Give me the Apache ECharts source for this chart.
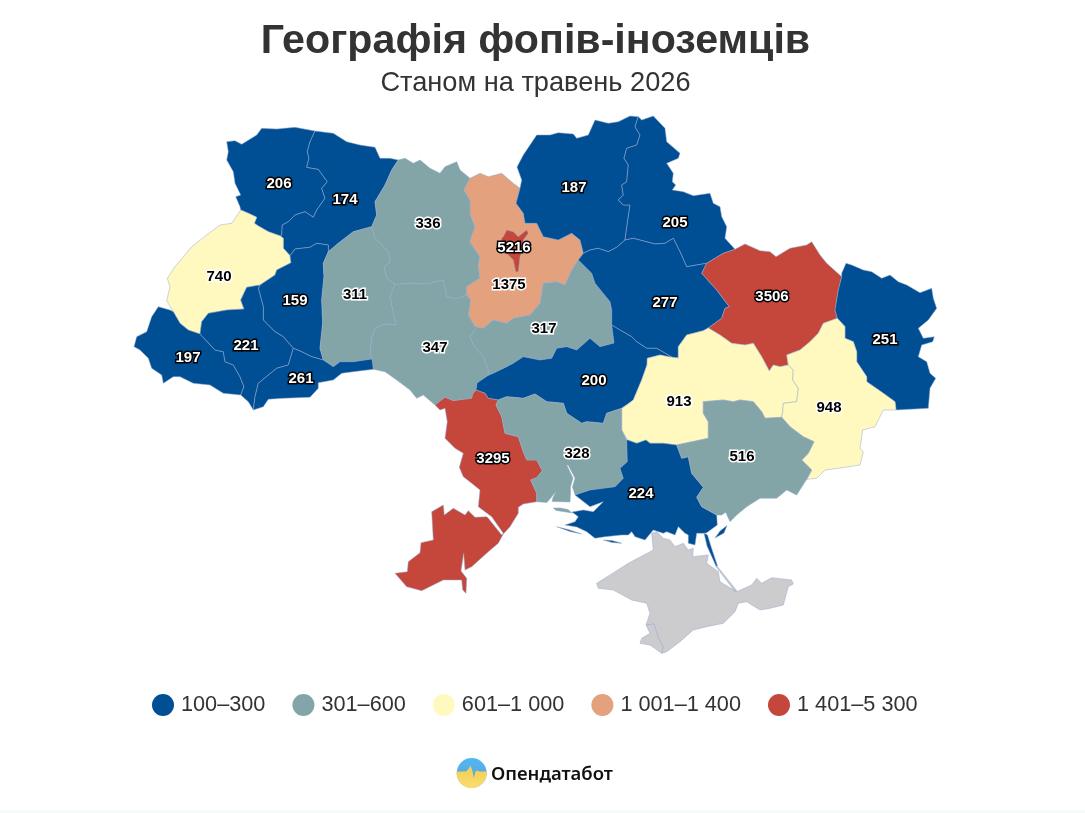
<!DOCTYPE html>
<html>
<head>
<meta charset="utf-8">
<title>Географія фопів-іноземців</title>
<script src="https://cdn.jsdelivr.net/npm/echarts@6/dist/echarts.min.js"></script>
<style>
	html, body { margin: 0; padding: 0; background: #fff; }
	#chart { width: 1085px; height: 813px; }
</style>
</head>
<body>
<div id="chart"></div>
<script>
// values per region, same order in both lists
var regions = ["Волинська", "Рівненська", "Житомирська", "Київська", "Київ", "Чернігівська", "Сумська",
	"Львівська", "Тернопільська", "Хмельницька", "Вінницька", "Черкаська", "Полтавська", "Харківська", "Луганська",
	"Закарпатська", "Івано-Франківська", "Чернівецька", "Кіровоградська", "Дніпропетровська", "Донецька",
	"Одеська", "Миколаївська", "Херсонська", "Запорізька"];
var values = [206, 174, 336, 1375, 5216, 187, 205,
	740, 159, 311, 347, 317, 277, 3506, 251,
	197, 221, 261, 200, 913, 948,
	3295, 328, 224, 516];

// legend ranges
var rangeLabels = ["100–300", "301–600", "601–1 000", "1 001–1 400", "1 401–5 300"];
var rangeMin = [100, 301, 601, 1001, 1401];
var rangeMax = [300, 600, 1000, 1400, 5300];
var rangeColors = ["#004f94", "#83a5a7", "#fff9bf", "#e3a17d", "#c5473b"];
var rangeWhiteText = [true, false, false, false, true];

// region outlines, traced in picture pixels, "x,y x,y ..."
var outlines = {
	"Волинська": ["226.7,141.7 235,140.7 241.7,144.3 256.7,135 261.7,128.3 276.7,129 295,127.3 315,131 310,141.7 307.3,151.7 309,158.3 306.7,167.3 318.3,169.3 327.3,181.7 321.7,188.3 325,198.3 316.7,210 313.3,217.3 305,211.7 295,215 288.3,221.7 282.3,225 281.7,235 280.3,236 268.3,231.7 258.3,226 254.3,223.3 256.7,217.3 248.3,213.3 240.7,210 240,206.7 235.7,196.7 240.7,195 235,183.3 233.3,171.7 226.7,160 228.3,151.7"],
	"Рівненська": ["315,131 333.3,133.3 346.7,141.7 360,145 375,147.3 380,158.3 390,158.3 398.3,160 391.7,170 385,185 375,201.7 376.7,215 371.7,226.7 353.3,231.7 338.3,243.3 328.3,251.7 328.3,245 316.7,243.3 310,247.3 295,249 290,255.7 283.3,248.3 283.3,238.3 280.3,236 281.7,235 282.3,225 288.3,221.7 295,215 305,211.7 313.3,217.3 316.7,210 325,198.3 321.7,188.3 327.3,181.7 318.3,169.3 306.7,167.3 309,158.3 307.3,151.7 310,141.7"],
	"Житомирська": ["398.3,160 405,158.3 413.3,163.3 420,160 430,168.3 440,173.3 445,166.7 456.7,161.7 460,170 470,178.3 464,190 470,200 470,213.3 475,226.7 470,241.7 480,256.7 478.3,265 480,278.3 466.7,286.7 466.7,295 456.7,299 446.7,296.7 443.3,280 435,281.7 428.3,284 413.3,283.3 395,284.3 386.7,278.3 384,266.7 390,261.7 388.3,251.7 375,238.3 371.7,226.7 376.7,215 375,201.7 385,185 391.7,170"],
	"Київська": ["470,178.3 480,173.3 488.3,176.7 501.7,173.3 513.3,183.3 520,188.3 516,203.3 523.3,213.3 525,223.3 536.7,223.3 543.3,236.7 558.3,240 571.7,233.3 580,240 583.3,253.3 578.3,260 571.7,270 565,285 556.7,281.7 543.3,283.3 540,303.3 530,315 513.3,318.3 506.7,323.3 493.3,320 483.3,328.3 475,326.7 468.3,315 470.7,300 466.7,295 466.7,286.7 480,278.3 478.3,265 480,256.7 470,241.7 475,226.7 470,213.3 470,200 464,190"],
	"Київ": ["503.3,236.7 506.7,230 513.3,231.7 518.3,236.7 526.7,230 528.3,233.3 523.3,240 523.3,248.3 520,256.7 518.3,271.7 515.7,271.7 513.3,260 506.7,253.3 500,246.7 501.7,238.3"],
	"Чернігівська": ["520,188.3 521.7,180 517,167 523.3,155 536.7,135 550,135 558.3,132.7 573.3,134 576.7,138.3 588.3,135 595,120 608.3,123.3 618.3,121.7 630,116 638.3,116.7 635,126.7 640,135 636.7,145 626.7,148.3 624,158.3 628.3,165 626.7,181.7 621.7,185 623.3,195 618.3,200 623.3,205 630,205 627.3,223.3 625,240 616.7,247.3 608.3,251.7 598.3,248.3 590,250 583.3,253.3 580,240 571.7,233.3 558.3,240 543.3,236.7 536.7,223.3 525,223.3 523.3,213.3 516,203.3"],
	"Сумська": ["638.3,116.7 641.7,120 653.3,116 665,128.3 666.7,141.7 680,153.3 678.3,158.3 666.7,163.3 673.3,173.3 672.3,181.7 675.7,185 672.3,190 683.3,191.7 693.3,195.7 710,193.3 713.3,203.3 720,206.7 721.7,216.7 726.7,226.7 725,238.3 735,249.3 723.3,253.3 706.7,263.3 686.7,266.7 680,251.7 673.3,238.3 665,243.3 655,244 633.3,238.3 625,240 627.3,223.3 630,205 623.3,205 618.3,200 623.3,195 621.7,185 626.7,181.7 628.3,165 624,158.3 626.7,148.3 636.7,145 640,135 635,126.7"],
	"Львівська": ["240.7,210 248.3,213.3 256.7,217.3 254.3,223.3 258.3,226 268.3,231.7 280.3,236 283.3,238.3 283.3,248.3 290,255.7 291,262.7 276.7,270 275,275 260,285 246.7,287.3 240.7,300 244,309 226.7,310 208.3,313.3 201.7,321.7 200,334 188.3,330 180,323.3 173.3,311.7 166.7,300.7 170,286.7 167.3,278.3 175,266.7 191.7,246.7 206.7,235 220,225 231.7,223.3"],
	"Тернопільська": ["290,255.7 295,249 310,247.3 316.7,243.3 328.3,245 328.3,251.7 323.3,263.3 324,276.7 321.7,300 322.7,323.3 320,348.3 323.3,360 311.7,356.7 301.7,351.7 293.3,348.3 283.3,336.7 275,331.7 263.3,320 263.3,306.7 258.3,288.3 260,285 275,275 276.7,270 291,262.7"],
	"Хмельницька": ["328.3,251.7 338.3,243.3 353.3,231.7 371.7,226.7 375,238.3 388.3,251.7 390,261.7 384,266.7 386.7,278.3 395,284.3 390,296.7 396,325 385,324 375,328.3 371.7,338.3 370,353.3 372,359 353.3,361.7 340,361.7 333.3,366.7 323.3,360 320,348.3 322.7,323.3 321.7,300 324,276.7 323.3,263.3"],
	"Вінницька": ["395,284.3 413.3,283.3 428.3,284 435,281.7 443.3,280 446.7,296.7 456.7,299 466.7,295 470.7,300 468.3,315 475,326.7 475,330 470,336.7 473.3,345 483.3,356.7 488.3,370 488,375.5 477,383 476,390 472.7,394 471.7,398.3 453.3,400.7 445,397.3 435,405 423.3,395 416.7,398.3 410,390 396.7,380 385,371.7 373.3,369.3 372,359 370,353.3 371.7,338.3 375,328.3 385,324 396,325 390,296.7"],
	"Черкаська": ["578.3,260 591.7,273.3 595,283.3 610,301.7 611.7,310 611.7,325 614,343 600,346.7 590,338.3 576.7,350 566.7,346.7 556.7,348.3 551.7,358.3 540,360 523.3,356.7 513.3,363.3 506.7,366.7 493.3,373.3 488,375.5 488.3,370 483.3,356.7 473.3,345 470,336.7 475,330 475,326.7 483.3,328.3 493.3,320 506.7,323.3 513.3,318.3 530,315 540,303.3 543.3,283.3 556.7,281.7 565,285 571.7,270"],
	"Полтавська": ["583.3,253.3 590,250 598.3,248.3 608.3,251.7 616.7,247.3 625,240 633.3,238.3 655,244 665,243.3 673.3,238.3 680,251.7 686.7,266.7 706.7,263.3 701.7,273.3 716.7,290 729.3,306.7 725,308.3 721.7,318.3 708.3,328 703.3,330.7 686.7,335 678.3,346.7 678.3,358 673.3,358 656.7,348.3 646.7,348.3 636.7,341.7 631.7,336.7 620,330 611.7,325 611.7,310 610,301.7 595,283.3 591.7,273.3 578.3,260"],
	"Харківська": ["701.7,273.3 706.7,263.3 723.3,253.3 735,249.3 745,244 760,250.7 770,251.7 776,256.7 790,248.3 806.7,245 811.7,241.7 820,255 826.7,263.3 841.7,276.7 838.3,290 836.7,300 835,310 837.3,318.3 823.3,323.3 818.3,333.3 810,341.7 800,350 786.7,355 788.3,365 780,366.7 773.3,365 769.3,371 761.7,356.7 753.3,343.3 745,345 731.7,343.3 720,335 708.3,328 721.7,318.3 725,308.3 729.3,306.7 716.7,290"],
	"Луганська": ["841.7,276.7 841.7,273.3 846,263.3 851.7,265 863.3,270 871.7,271.7 881.7,278.3 890,275 898.3,281.7 906.7,285 920,292.7 931.7,288.3 933.3,298.3 936.7,308.3 928.3,320 918.3,328.3 923.3,338.3 934.3,336.7 932.7,341.7 921.7,345 918.3,356.7 926.7,361.7 930,373.3 935.7,378.3 930,388.3 928.3,408.3 896,410 895,401.7 883.3,393.3 866.7,381.7 866.7,376.7 856.7,361.7 856.7,351.7 853.3,341.7 845,338.3 845,326.7 837.3,318.3 835,310 836.7,300 838.3,290"],
	"Закарпатська": ["158.3,306.7 170,310 173.3,311.7 180,323.3 188.3,330 200,334 215,350 223.3,351.7 225,361.7 233.3,365 240,376.7 244,386.7 240.7,395 223.3,393.3 210,385 193.3,383.3 180,376.7 173.3,376.7 163.3,383.3 161.7,375 151.7,368.3 148.3,358.3 140,350 134,346.7 136.7,336.7 146.7,331.7 151.7,316.7"],
	"Івано-Франківська": ["246.7,287.3 260,285 258.3,288.3 263.3,306.7 263.3,320 275,331.7 283.3,336.7 293.3,348.3 288.3,365 276.7,368.3 258.3,383.3 255,396.7 253.3,410 248.3,401.7 240.7,395 244,386.7 240,376.7 233.3,365 225,361.7 223.3,351.7 215,350 200,334 201.7,321.7 208.3,313.3 226.7,310 244,309 240.7,300"],
	"Чернівецька": ["253.3,410 263.3,406.7 268.3,399.3 283.3,398.3 310,397.3 318.3,388.3 318.3,382.7 333.3,380 341.7,373.3 353.3,371.7 373.3,369.3 372,359 353.3,361.7 340,361.7 333.3,366.7 323.3,360 311.7,356.7 301.7,351.7 293.3,348.3 288.3,365 276.7,368.3 258.3,383.3 255,396.7"],
	"Кіровоградська": ["488,375.5 493.3,373.3 506.7,366.7 513.3,363.3 523.3,356.7 540,360 551.7,358.3 556.7,348.3 566.7,346.7 576.7,350 590,338.3 600,346.7 614,343 611.7,325 620,330 631.7,336.7 636.7,341.7 646.7,348.3 656.7,348.3 673.3,358 678.3,358 668.3,356.7 660,355 647.3,358.3 647,365 641.7,380 633.3,400 628,404 621.7,408.3 606.7,413.3 603.3,423.3 586.7,421.7 581.7,423.3 566.7,413.3 563.3,403.3 546.7,401.7 535,394 523.3,398.3 506.7,396.7 498.3,400 488.3,398.3 485,393.3 476,390 477,383"],
	"Дніпропетровська": ["708.3,328 720,335 731.7,343.3 745,345 753.3,343.3 761.7,356.7 769.3,371 773.3,365 780,366.7 788.3,365 793.3,370 792.7,380 798.3,388.3 796.7,401.7 783.3,403.3 782.7,411.7 781.7,417.3 765,418.3 761.7,411.7 753.3,401.7 740,400 733.3,401.7 723.3,400 711.7,401 703.3,401.7 703.3,413.3 708.3,421.7 708.3,438.3 676.7,445 663.3,443.3 650,443.3 646,440 636.7,443.3 627.7,440 621.7,430 621.7,408.3 628,404 633.3,400 641.7,380 647,365 647.3,358.3 660,355 668.3,356.7 678.3,358 678.3,346.7 686.7,335 703.3,330.7"],
	"Донецька": ["837.3,318.3 845,326.7 845,338.3 853.3,341.7 856.7,351.7 856.7,361.7 866.7,376.7 866.7,381.7 883.3,393.3 895,401.7 896,410 883.3,410 875,426.7 862.7,430 860,448.3 863.3,451.7 860,465 838.3,468.3 825,470 816.7,478.3 806.7,479.3 811.7,470 801.7,460 808.3,453.3 814,441.7 803.3,436.7 790,426.7 781.7,417.3 782.7,411.7 783.3,403.3 796.7,401.7 798.3,388.3 792.7,380 793.3,370 788.3,365 786.7,355 800,350 810,341.7 818.3,333.3 823.3,323.3"],
	"Одеська": ["435,405 445,397.3 453.3,400.7 471.7,398.3 472.7,394 476,390 485,393.3 488.3,398.3 498.3,400 496,405 501.7,416.7 505,433.3 518.3,436.7 523.3,451.7 526.7,460 536.7,460 542.3,470.7 536.7,477.7 530.7,480 536.7,493.3 536.7,501.7 523.3,504 518.3,507.3 518.3,513.3 510,526.7 503.3,534 498.3,543.3 488.3,551.7 471.7,566.7 465,570 463.7,553.3 461,571 466.7,578.3 466,593.3 462.7,590 461.7,580 443.3,580 426.7,588.3 421.7,590.7 406.7,586.7 395,573.3 407.3,571.7 408.3,561.7 420,552.7 421,542.7 433.3,540 431.7,511.7 443.3,505 444.3,515 453.3,508.3 465,515 468.3,510.7 475,517.3 486.7,516.7 488.3,518.3 501.7,535 503.3,533.3 491.7,516.7 478.3,506.7 480,490 471.7,483.3 463.3,476.7 459.3,467.3 463.3,453.3 455,448.3 445,438.3 447.3,421.7 445,408.3 440,410"],
	"Миколаївська": [
		"498.3,400 506.7,396.7 523.3,398.3 535,394 546.7,401.7 563.3,403.3 566.7,413.3 581.7,423.3 586.7,421.7 603.3,423.3 606.7,413.3 621.7,408.3 621.7,430 626.7,440 627.3,461.7 620,468.3 623.3,478.3 615,486.7 603.3,488.3 590,490 575,495 572.5,487 575,478 568,465 566.7,465 573,478 570.5,487 570.5,494 570,502 552,501.5 553,497.5 556,491.5 551.5,497 547,502.5 536.7,501.7 536.7,493.3 530.7,480 536.7,477.7 542.3,470.7 536.7,460 526.7,460 523.3,451.7 518.3,436.7 505,433.3 501.7,416.7 496,405",
		"553.3,508 560,508 568,509.5 572,513 566,512 556,510.5"
	],
	"Херсонська": [
		"627.7,440 636.7,443.3 646,440 650,443.3 663.3,443.3 676.7,445 681.7,458.3 688.3,456.7 691.7,473.3 703.3,487.3 696.7,497.3 701.7,506.7 716.7,515 717.3,525 706.7,532.7 704,533.3 696.7,533.3 695,545 688.3,543.3 688.3,535 685,533.3 678.3,526.7 675,535 666.7,531.7 663.3,533.3 653.3,530 645,540 635,536.7 631.7,531.7 628.3,535 621.7,535 605,536.7 595,538.3 586.7,531.7 576.7,527 565,525 575,521.7 578.3,516.7 572,512 583.3,510 593.3,511.7 603.3,501.7 590,506.7 575,495 590,490 603.3,488.3 615,486.7 623.3,478.3 620,468.3 627.3,461.7 626.7,440",
		"556.7,526.7 568,529.5 581.7,534 570,531.5",
		"603.3,540 612,540.5 621.7,543.3 612,542.5",
		"704,533 707.5,535 711.5,548 717.5,566 716,566 707,546",
		"715,538 720,531 727,525.5 724,533"
	],
	"Запорізька": ["676.7,445 708.3,438.3 708.3,421.7 703.3,413.3 703.3,401.7 711.7,401 723.3,400 733.3,401.7 740,400 753.3,401.7 761.7,411.7 765,418.3 781.7,417.3 790,426.7 803.3,436.7 814,441.7 808.3,453.3 801.7,460 811.7,470 806.7,479.3 796.7,495 786.7,490 776.7,498.3 760,498.3 746.7,506.7 736.7,515 730,521.7 725.7,512.3 721.7,515 716.7,515 701.7,506.7 696.7,497.3 703.3,487.3 691.7,473.3 688.3,456.7 681.7,458.3"],
	// no value, stays grey
	"Крим": [
		"651.7,533.3 656.7,531.7 663.3,538.3 670,540 675,546.7 683.3,543.3 688.3,550 693.3,548.3 692.7,556.7 708.3,555 706.7,563.3 718.3,571.7 720,581.7 736.7,591.7 751.7,585 756.7,578.3 761.7,583.3 771.7,577.7 791.7,580 793.3,584 788.3,586.7 783.3,605 770,608.3 760,610 746.7,601.7 738.3,603.3 735,611.7 723.3,623.3 706.7,626.7 693.3,630 680,641.7 666.7,651.7 661.7,653.3 663,647 658,637 654,624 646,625 650,613.3 646.7,603.3 631.7,600 613.3,590 598.3,588.3 596.7,583.3 610,575 628.3,563.3 653.3,550",
		"717,566 737,591 735,591.5 715.5,566"
	],
	"Севастополь": ["646,625 654,624 658,637 663,647 661.7,653.3 650,645 640,643.3 641.7,638.3 650,633.3"]
};

// where each value label sits
var labelAnchors = {
	"Волинська": [279, 183], "Рівненська": [345, 199], "Житомирська": [428, 223], "Київська": [509, 284], "Київ": [514, 247],
	"Чернігівська": [574, 187], "Сумська": [675, 222], "Львівська": [219, 276], "Тернопільська": [295, 300],
	"Хмельницька": [355, 294], "Вінницька": [435, 347], "Черкаська": [544, 328], "Полтавська": [665, 302],
	"Харківська": [772, 296], "Луганська": [885, 339], "Закарпатська": [188, 357], "Івано-Франківська": [246, 345],
	"Чернівецька": [301, 378], "Кіровоградська": [594, 380], "Дніпропетровська": [679, 401], "Донецька": [829, 407],
	"Одеська": [493, 458], "Миколаївська": [577, 453], "Херсонська": [641, 493], "Запорізька": [742, 456]
};

function parseRing(str) {
	var ring = str.split(" ").map(p => p.split(",").map(Number));
	ring.push(ring[0]);
	return ring;
}

function buildGeoJson() {
	var features = Object.keys(outlines).map(name => {
		return {
			type: "Feature",
			properties: { name: name, cp: labelAnchors[name] },
			geometry: {
				type: "MultiPolygon",
				coordinates: outlines[name].map(s => [parseRing(s)])
			}
		};
	});
	return { type: "FeatureCollection", features: features };
}

function rangeIndex(v) {
	for (var i = 0; i < rangeMin.length; i++) {
		if (v >= rangeMin[i] && v <= rangeMax[i]) return i;
	}
	return 0;
}

// lower half of the logo, its top edge is the pulse line
function logoPulsePoints(cx, cy, r) {
	var pts = [[cx - r, 771.5], [466, 771.5], [468.5, 769], [470.5, 765.5], [472.5, 771], [473.8, 778], [475.5, 771.5], [477.5, 770.5], [479, 771.5], [cx + r, 771.5]];
	var start = Math.asin((771.5 - cy) / r);
	for (var a = start; a < Math.PI - start; a += 0.1) {
		pts.push([cx + r * Math.cos(a), cy + r * Math.sin(a)]);
	}
	return pts;
}

function main() {
	echarts.registerMap("ukraine", buildGeoJson());
	var mychart = echarts.init(document.querySelector("#chart"));

	var mapData = regions.map((name, i) => {
		var white = rangeWhiteText[rangeIndex(values[i])];
		return {
			name: name,
			value: values[i],
			label: {
				color: white ? "#fff" : "#000",
				textBorderColor: white ? "#000" : "#fff"
			}
		};
	});

	var pieces = rangeLabels.map((label, i) => {
		return { min: rangeMin[i], max: rangeMax[i], label: label, color: rangeColors[i] };
	});

	var option = {
		backgroundColor: "#fff",
		animation: false,
		title: [{
			text: "Географія фопів-іноземців",
			left: 530.5,
			top: 16,
			textAlign: "center",
			textStyle: { fontFamily: "Liberation Sans", fontSize: 41.2, fontWeight: "bold", color: "#333" }
		}, {
			text: "Станом на травень 2026",
			left: 530.5,
			top: 65,
			textAlign: "center",
			textStyle: { fontFamily: "Liberation Sans", fontSize: 27.2, fontWeight: "normal", color: "#333" }
		}],
		visualMap: {
			type: "piecewise",
			orient: "horizontal",
			left: 137,
			top: 679,
			itemSymbol: "circle",
			itemWidth: 22,
			itemHeight: 22,
			itemGap: 27,
			textGap: 7,
			selectedMode: false,
			pieces: pieces,
			textStyle: { fontFamily: "Liberation Sans", fontSize: 21.7, color: "#333" }
		},
		series: [{
			type: "map",
			map: "ukraine",
			projection: {
				project: p => p,
				unproject: p => p
			},
			boundingCoords: [[0, 0], [1085, 813]],
			left: 0,
			top: 0,
			width: 1085,
			height: 813,
			silent: true,
			data: mapData,
			itemStyle: {
				areaColor: "#cccbcd",
				borderColor: "rgba(150,170,205,0.5)",
				borderWidth: 1
			},
			label: {
				show: true,
				fontFamily: "Liberation Sans",
				fontSize: 15,
				fontWeight: "bold",
				textBorderWidth: 3,
				offset: [0, 1],
				formatter: params => (isNaN(params.value) ? "" : String(params.value))
			}
		}],
		graphic: [{
			type: "rect",
			shape: { x: 0, y: 810, width: 1085, height: 3 },
			style: { fill: "#f7fafa" }
		}, {
			type: "circle",
			shape: { cx: 471.7, cy: 773, r: 15 },
			style: {
				fill: new echarts.graphic.LinearGradient(0, 0, 0, 1, [
					{ offset: 0, color: "#4db7f5" },
					{ offset: 0.6, color: "#5fa8dc" }
				])
			}
		}, {
			type: "polygon",
			shape: { points: logoPulsePoints(471.7, 773, 15) },
			style: {
				fill: new echarts.graphic.LinearGradient(0, 0, 0, 1, [
					{ offset: 0, color: "#f3cd4e" },
					{ offset: 1, color: "#fbdc72" }
				])
			}
		}, {
			type: "text",
			left: 491,
			top: 765,
			style: { text: "Опендатабот", fontFamily: "Noto Sans", fontSize: 18.5, fontWeight: 600, fill: "#111" }
		}]
	};
	mychart.setOption(option, true);
}

main();
</script>
</body>
</html>
